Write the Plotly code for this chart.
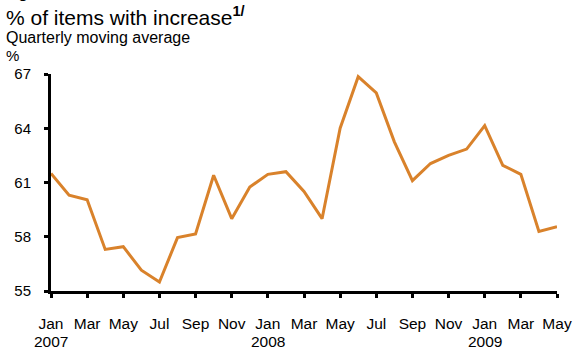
import plotly.graph_objects as go

months = ["Jan 2007", "Feb 2007", "Mar 2007", "Apr 2007", "May 2007", "Jun 2007",
          "Jul 2007", "Aug 2007", "Sep 2007", "Oct 2007", "Nov 2007", "Dec 2007",
          "Jan 2008", "Feb 2008", "Mar 2008", "Apr 2008", "May 2008", "Jun 2008",
          "Jul 2008", "Aug 2008", "Sep 2008", "Oct 2008", "Nov 2008", "Dec 2008",
          "Jan 2009", "Feb 2009", "Mar 2009", "Apr 2009", "May 2009"]
values = [61.5, 60.3, 60.05, 57.3, 57.45, 56.15, 55.5, 57.95, 58.15, 61.4, 59.0, 60.75,
          61.45, 61.6, 60.5, 59.0, 64.0, 66.85, 65.95, 63.25, 61.1, 62.05, 62.5, 62.85,
          64.15, 61.95, 61.45, 58.3, 58.55]
tick_months = months[::2]
tick_text = ["Jan", "Mar", "May", "Jul", "Sep", "Nov", "Jan", "Mar", "May",
             "Jul", "Sep", "Nov", "Jan", "Mar", "May"]
year_ticks = ["Jan 2007", "Jan 2008", "Jan 2009"]
year_text = ["2007", "2008", "2009"]
y_ticks = [55, 58, 61, 64, 67]

font = "Liberation Sans, Arial, sans-serif"
PLOT_TOP, PLOT_BOTTOM = 74, 291
PH = PLOT_BOTTOM - PLOT_TOP
L = 51
PW = 574 - 17 - L


def py(p):
    return (PLOT_BOTTOM - p) / PH


fig = go.Figure()
fig.add_trace(go.Scatter(x=months, y=values, mode="lines",
                         line=dict(color="#D9822B", width=3), hoverinfo="skip"))

fig.update_layout(
    width=574, height=349,
    margin=dict(l=L, r=17, t=PLOT_TOP, b=349 - PLOT_BOTTOM, autoexpand=False),
    paper_bgcolor="white", plot_bgcolor="white",
    showlegend=False,
    font=dict(family=font, size=15, color="black"),
    xaxis=dict(type="category", range=[0, len(months) - 1], automargin=False,
               tickmode="array", tickvals=tick_months, ticktext=tick_text,
               showgrid=False, zeroline=False,
               showline=True, linecolor="black", linewidth=3,
               ticks="outside", ticklen=4, tickwidth=3, tickcolor="black",
               ticklabelstandoff=12, tickfont=dict(size=15.5, family=font)),
    yaxis=dict(range=[55, 67], tickmode="array", tickvals=y_ticks, automargin=False,
               showgrid=False, zeroline=False,
               showline=True, linecolor="black", linewidth=3,
               ticks="outside", ticklen=4, tickwidth=3, tickcolor="black",
               ticklabelstandoff=10, tickfont=dict(size=15, family=font)),
)

for m, yt in zip(year_ticks, year_text):
    fig.add_annotation(text=yt, xref="x", yref="paper", x=m, y=py(331),
                       xanchor="center", yanchor="top", showarrow=False,
                       font=dict(size=15.5, family=font))

fig.add_annotation(text="<b>Figure 1</b>", xref="paper", yref="paper",
                   x=-L / PW, y=py(3), xanchor="left", yanchor="bottom",
                   xshift=2, showarrow=False, font=dict(size=16, family=font))
fig.add_annotation(text="% of items with increase<sup><b>1/</b></sup>", xref="paper", yref="paper",
                   x=-L / PW, y=py(1), xanchor="left", yanchor="top",
                   xshift=4, showarrow=False, font=dict(size=21, family=font))
fig.add_annotation(text="Quarterly moving average", xref="paper", yref="paper",
                   x=-L / PW, y=py(27), xanchor="left", yanchor="top",
                   xshift=4, showarrow=False, font=dict(size=16, family=font))
fig.add_annotation(text="%", xref="paper", yref="paper",
                   x=-L / PW, y=py(45), xanchor="left", yanchor="top",
                   xshift=4, showarrow=False, font=dict(size=15, family=font))

fig.write_html("out.html")
